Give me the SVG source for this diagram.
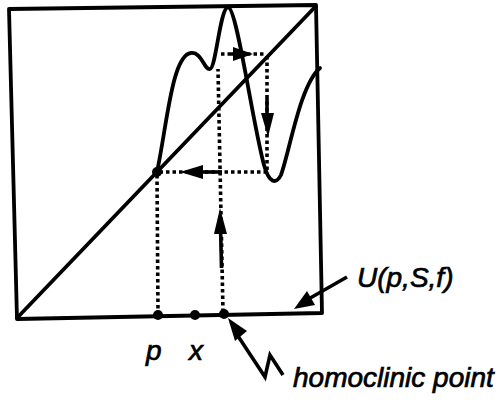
<svg xmlns="http://www.w3.org/2000/svg" width="501" height="400" viewBox="0 0 501 400">
<style>
.solid{fill:none;stroke:#000;stroke-width:3.8;stroke-linejoin:round;stroke-linecap:round}
.dash{fill:none;stroke:#000;stroke-width:3.6;stroke-dasharray:3.5 3}
.shaft{fill:none;stroke:#000;stroke-width:3.6}
.head{fill:#000}
.dot{fill:#000}
.lbl{font-family:"Liberation Sans",Arial,sans-serif;font-style:italic;font-size:28px;fill:#000;stroke:#000;stroke-width:0.7}
</style>
<rect width="501" height="400" fill="#fff"/>
<g id="frame">
<polygon class="solid" points="9,9 316,5 322,313 17,319"/>
</g>
<g id="diagonal">
<line class="solid" x1="17" y1="318" x2="316" y2="6"/>
</g>
<g id="curve">
<path class="solid" d="M157,172 C167,125 172,55 191,53 C202,52 204,70 210,69 C216,68 220,8 228,7 C237,8 252,120 264,165 C269,183 276,185 281,175 C290,150 300,85 320,68"/>
</g>
<g id="connectors">
<line class="dash" x1="223" y1="312" x2="218" y2="69"/>
<line class="dash" x1="221" y1="54" x2="265" y2="54"/>
<line class="dash" x1="267" y1="56" x2="267" y2="170"/>
<line class="dash" x1="267" y1="172" x2="159" y2="172"/>
<line class="dash" x1="157" y1="175" x2="158" y2="312"/>
<line class="shaft" x1="221.5" y1="268" x2="220.5" y2="225"/>
<polygon class="head" points="220,208 214,234 227,234"/>
<line class="shaft" x1="231" y1="54" x2="240" y2="54"/>
<polygon class="head" points="253,54 233,47 233,61"/>
<line class="shaft" x1="267" y1="98" x2="267" y2="120"/>
<polygon class="head" points="268,137 261,113 274,113"/>
<line class="shaft" x1="222" y1="172" x2="195" y2="172"/>
<polygon class="head" points="180,172 203,165 203,179"/>
</g>
<g id="points">
<circle class="dot" cx="157" cy="172" r="5"/>
<circle class="dot" cx="158" cy="315" r="5"/>
<circle class="dot" cx="195" cy="315" r="5"/>
<circle class="dot" cx="224" cy="314" r="5"/>
</g>
<g id="label-U">
<line class="shaft" x1="347" y1="277" x2="305" y2="301"/>
<polygon class="head" points="294,309 307,291 315,305"/>
<text class="lbl" x="357" y="287">U(p,S,f)</text>
</g>
<g id="label-p"><text class="lbl" x="146" y="360">p</text></g>
<g id="label-x"><text class="lbl" x="189" y="360">x</text></g>
<g id="label-homoclinic">
<polyline class="shaft" points="234,330 265,377 270,355 283,375" stroke-linejoin="miter"/>
<polygon class="head" points="228,318 247,331 235,341"/>
<text class="lbl" x="293" y="387">homoclinic point</text>
</g>
</svg>
